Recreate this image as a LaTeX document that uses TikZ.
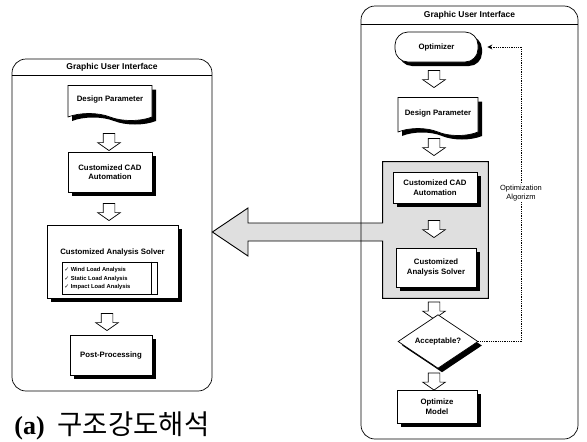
\documentclass[tikz,border=0pt]{standalone}
\usepackage{fontspec}
\setmainfont{Liberation Sans}
\newfontfamily\capfont{Liberation Serif}
\newfontfamily\krfont{Noto Sans CJK KR}
\newfontfamily\symfont{DejaVu Sans}
\usetikzlibrary{shapes.geometric,shapes.symbols,shapes.arrows,shadows,arrows.meta,backgrounds,positioning}
\tikzstyle{panel} = [draw, rounded corners=14pt, inner sep=0pt]
\tikzstyle{guititle} = [font=\bfseries\fontsize{8.5}{9}\selectfont]
\tikzstyle{block} = [rectangle, draw, fill=white, align=center, inner sep=1pt,
    font=\bfseries\fontsize{7.8}{9.5}\selectfont,
    drop shadow={shadow xshift=4pt,shadow yshift=-4pt,fill=black,opacity=1}]
\tikzstyle{doc} = [tape, tape bend top=none, tape bend bottom=out and in, tape bend height=7pt,
    draw, fill=white, inner sep=1pt, font=\bfseries\fontsize{7.8}{9.5}\selectfont,
    drop shadow={shadow xshift=4pt,shadow yshift=-4pt,fill=black,opacity=1}]
\tikzstyle{decision} = [diamond, draw, fill=white, inner sep=0pt, font=\bfseries\fontsize{7.8}{9.5}\selectfont,
    drop shadow={shadow xshift=4pt,shadow yshift=-4pt,fill=black,opacity=1}]
\tikzstyle{blockarrow} = [single arrow, draw, fill=white, rotate=-90, inner xsep=0pt, inner ysep=5.5pt,
    minimum height=17pt, minimum width=17pt, single arrow head extend=5.5pt, single arrow tip angle=110]
\tikzstyle{item} = [anchor=west, inner sep=0pt, font=\bfseries\fontsize{5.8}{6}\selectfont]
\tikzstyle{feedback} = [draw, densely dotted, line width=0.8pt, -{Stealth[open,length=5pt,width=5pt]}]

\begin{document}
\begin{tikzpicture}[x=1pt,y=-1pt,line width=0.7pt]
    \useasboundingbox (0,0) rectangle (587,442);
    % Place nodes
    \node[panel, minimum width=200pt, minimum height=332pt] (guiA) at (112,225) {};
    \node[guititle] (titleA) at (112,67.5) {Graphic User Interface};
    \draw (guiA.west |- 0,75) -- (guiA.east |- 0,75);

    \node[doc, minimum width=84pt, minimum height=35pt] (paramA) at (110,99.5) {Design Parameter};
    \node[blockarrow] (arrA1) at (109,140) {};
    \node[block, minimum width=84pt, minimum height=40pt] (cadA) at (110,172) {Customized CAD\\Automation};
    \node[blockarrow] (arrA2) at (109,210) {};
    \node[block, minimum width=131pt, minimum height=73pt] (solverA) at (112.5,261.5) {};
    \node[font=\bfseries\fontsize{7.8}{9.5}\selectfont] (solverAtitle) at (112.5,252) {Customized Analysis Solver};
    \node[draw, fill=white, minimum width=95pt, minimum height=32pt, inner sep=0pt] (listA) at (109.5,278) {};
    \draw ([xshift=-6pt]listA.north east) -- ([xshift=-6pt]listA.south east);
    \node[item] (windA) at (64,270) {{\symfont ✓} Wind Load Analysis};
    \node[item] (staticA) at (64,278.5) {{\symfont ✓} Static Load Analysis};
    \node[item] (impactA) at (64,287) {{\symfont ✓} Impact Load Analysis};
    \node[blockarrow] (arrA3) at (107,320) {};
    \node[block, minimum width=82pt, minimum height=40pt] (postA) at (111,355) {Post-Processing};

    \node[panel, minimum width=217pt, minimum height=433pt] (guiB) at (469.5,222.5) {};
    \node[guititle] (titleB) at (469.5,15) {Graphic User Interface};
    \draw (guiB.west |- 0,24) -- (guiB.east |- 0,24);

    \node[block, rounded corners=13pt, minimum width=83pt, minimum height=30pt] (opt) at (436.5,47) {Optimizer};
    \node[blockarrow] (arrB1) at (434,77) {};
    \node[doc, minimum width=80pt, minimum height=38pt] (paramB) at (438,113) {Design Parameter};
    \node[blockarrow] (arrB2) at (434,145) {};
    \node[inner sep=0pt, minimum width=105pt, minimum height=136pt] (grp) at (435.5,230) {};
    \node[block, minimum width=84pt, minimum height=31pt] (cadB) at (435,187.5) {Customized CAD\\Automation};
    \node[blockarrow] (arrB3) at (434,227) {};
    \node[block, minimum width=80pt, minimum height=39pt] (solverB) at (436,267.5) {Customized\\Analysis Solver};
    \node[blockarrow] (arrB4) at (434,308.5) {};
    \node[decision, minimum width=80pt, minimum height=43pt] (accept) at (438,341.5) {Acceptable?};
    \node[blockarrow] (arrB5) at (434,379.5) {};
    \node[block, minimum width=80pt, minimum height=33pt] (model) at (437,406.5) {Optimize\\Model};

    \node[anchor=west, inner sep=0pt] (caption) at (14,426) {{\capfont\bfseries\fontsize{26}{28}\selectfont (a)}\hspace{13pt}{\krfont\fontsize{27.5}{29}\selectfont 구조강도해석}};

    % Draw edges
    \begin{scope}[on background layer]
    \draw[fill=gray!25, line width=0.9pt] (grp.north west) -- (grp.north east) -- (grp.south east) -- (grp.south west)
        -- (grp.west |- 0,241) -- (248,241) -- (248,256) -- (guiA.east |- 0,232) -- (248,208) -- (248,223)
        -- (grp.west |- 0,223) -- cycle;
    \end{scope}
    \coordinate (loop) at ([xshift=43pt]opt.east);
    \path[feedback, shorten >=9pt] (accept.east) -| (loop) -- (opt.east);
    \node[fill=white, align=center, inner sep=1pt, font=\fontsize{7.5}{8.5}\selectfont] (algo) at (521,193) {Optimization\\Algorizm};
\end{tikzpicture}
\end{document}
